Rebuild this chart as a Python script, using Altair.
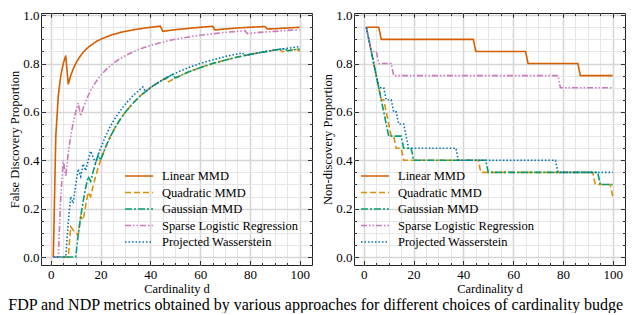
import altair as alt
import pandas as pd

methods = ["Linear MMD", "Quadratic MMD", "Gaussian MMD",
           "Sparse Logistic Regression", "Projected Wasserstein"]
colors = ["#D55E00", "#DE8F05", "#029E73", "#CC78BC", "#0173B2"]
dashes = [[1, 0], [6, 3], [7, 2, 2, 2], [6, 2, 1.5, 2, 1.5, 2], [1.5, 2]]

# ---- Left panel: False Discovery Proportion ----
lin_d = [1, 2, 3, 4, 5, 6, 7, 8, 9, 10, 11, 12, 13, 14, 15, 16, 17, 18, 19, 20,
         22, 24, 26, 28, 30, 34, 38, 44, 45, 50, 55, 60, 65, 66, 70, 75, 80, 86,
         87, 90, 95, 100]
lin_fdp = [0, 0.5, 0.667, 0.75, 0.8, 0.833, 0.714, 0.75, 0.778, 0.8, 0.818, 0.833,
           0.846, 0.857, 0.867, 0.875, 0.882, 0.889, 0.895, 0.9,
           0.909, 0.917, 0.923, 0.929, 0.933, 0.941, 0.947, 0.955,
           0.933, 0.94, 0.945, 0.95, 0.954, 0.939, 0.943, 0.947, 0.95, 0.953,
           0.943, 0.944, 0.947, 0.95]

quad_d = [1, 7, 8, 9, 10, 11, 12, 13, 14, 15, 16, 17, 18, 19, 20,
          22, 24, 26, 28, 30, 33, 36, 40, 43, 46,
          47, 50, 55, 60, 65, 70, 75, 80, 85, 92, 93, 96, 99, 100]
quad_fdp = [0, 0, 0.125, 0.111, 0.1, 0.091, 0.167, 0.154, 0.214, 0.267, 0.25, 0.294,
            0.333, 0.368, 0.4,
            0.455, 0.5, 0.538, 0.571, 0.6, 0.636, 0.667, 0.7, 0.721, 0.739,
            0.723, 0.74, 0.764, 0.783, 0.8, 0.814, 0.827, 0.838, 0.847, 0.859,
            0.849, 0.854, 0.859, 0.85]

gau_d = [1, 10, 11, 12, 13, 14, 15, 16, 17, 18, 19, 20,
         22, 24, 26, 28, 30, 33, 36, 40, 44, 49,
         50, 55, 60, 65, 70, 75, 80, 85, 90, 94, 95, 100]
gau_fdp = [0, 0, 0.091, 0.167, 0.231, 0.286, 0.333, 0.313, 0.353, 0.389, 0.421, 0.4,
           0.455, 0.5, 0.538, 0.571, 0.6, 0.636, 0.667, 0.7, 0.727, 0.755,
           0.74, 0.764, 0.783, 0.8, 0.814, 0.827, 0.838, 0.847, 0.856, 0.862,
           0.853, 0.86]

slr_d = [1, 3, 4, 5, 6, 7, 8, 9, 10, 11, 12, 13, 14, 15, 16, 17, 18, 19, 20,
         22, 24, 26, 28, 30, 33, 36, 40, 44, 48, 52, 56, 60, 65, 70, 74, 78,
         79, 84, 90, 95, 100]
slr_fdp = [0, 0, 0.25, 0.4, 0.333, 0.429, 0.5, 0.556, 0.6, 0.636, 0.583, 0.615,
           0.643, 0.667, 0.688, 0.706, 0.722, 0.737, 0.75,
           0.773, 0.792, 0.808, 0.821, 0.833, 0.848, 0.861, 0.875, 0.886, 0.896,
           0.904, 0.911, 0.917, 0.923, 0.929, 0.932, 0.936,
           0.924, 0.929, 0.933, 0.937, 0.94]

pw_d = [1, 6, 7, 8, 9, 10, 11, 12, 13, 14, 15, 16, 17, 18, 19, 20,
        22, 24, 26, 28, 30, 33, 37,
        38, 41, 44, 48, 52, 56, 60, 65, 70, 77,
        78, 82, 86, 90, 95, 100]
pw_fdp = [0, 0, 0.143, 0.25, 0.222, 0.3, 0.364, 0.333, 0.385, 0.357, 0.4, 0.438,
          0.412, 0.389, 0.421, 0.45,
          0.5, 0.542, 0.577, 0.607, 0.633, 0.667, 0.703,
          0.684, 0.707, 0.727, 0.75, 0.769, 0.786, 0.8, 0.815, 0.829, 0.844,
          0.833, 0.841, 0.849, 0.856, 0.863, 0.87]

# ---- Right panel: Non-discovery Proportion (step vertices) ----
lin_nd_d = [1, 6, 7, 44, 45, 65, 66, 86, 87, 100]
lin_ndp = [0.95, 0.95, 0.9, 0.9, 0.85, 0.85, 0.8, 0.8, 0.75, 0.75]

quad_nd_d = [1, 7, 8, 9, 10, 11, 12, 13, 15, 16, 46, 47, 92, 93, 99, 100]
quad_ndp = [0.95, 0.65, 0.65, 0.6, 0.55, 0.5, 0.5, 0.45, 0.45, 0.4, 0.4, 0.35,
            0.35, 0.3, 0.3, 0.25]

gau_nd_d = [1, 10, 15, 16, 19, 20, 49, 50, 94, 95, 100]
gau_ndp = [0.95, 0.5, 0.5, 0.45, 0.45, 0.4, 0.4, 0.35, 0.35, 0.3, 0.3]

slr_nd_d = [1, 3, 5, 6, 11, 12, 78, 79, 100]
slr_ndp = [0.95, 0.85, 0.85, 0.8, 0.8, 0.75, 0.75, 0.7, 0.7]

pw_nd_d = [1, 6, 8, 9, 11, 12, 13, 14, 16, 17, 18, 37, 38, 77, 78, 100]
pw_ndp = [0.95, 0.7, 0.7, 0.65, 0.65, 0.6, 0.6, 0.55, 0.55, 0.5, 0.45, 0.45,
          0.4, 0.4, 0.35, 0.35]

x_major = [0, 20, 40, 60, 80, 100]
x_minor = [5, 10, 15, 25, 30, 35, 45, 50, 55, 65, 70, 75, 85, 90, 95]
y_major = [0.0, 0.2, 0.4, 0.6, 0.8, 1.0]
y_minor = [0.05, 0.1, 0.15, 0.25, 0.3, 0.35, 0.45, 0.5, 0.55, 0.65, 0.7, 0.75,
           0.85, 0.9, 0.95]

caption = ("FDP and NDP metrics obtained by various approaches for different "
           "choices of cardinality budge")

FONT = "Liberation Serif"
W, H = 271, 252
XDOM = [-3.95, 104.95]
YDOM = [-0.033, 1.009]


def long_df(ds, vs):
    rows = []
    for m, d, v in zip(methods, ds, vs):
        for di, vi in zip(d, v):
            rows.append({"method": m, "d": di, "value": vi})
    return pd.DataFrame(rows)


left_df = long_df([lin_d, quad_d, gau_d, slr_d, pw_d],
                  [lin_fdp, quad_fdp, gau_fdp, slr_fdp, pw_fdp])
right_df = long_df([lin_nd_d, quad_nd_d, gau_nd_d, slr_nd_d, pw_nd_d],
                   [lin_ndp, quad_ndp, gau_ndp, slr_ndp, pw_ndp])

x_all = sorted(x_major + x_minor)
y_all = sorted(y_major + y_minor)
xmaj_test = "datum.value % 20 == 0"
ymaj_test = "round(datum.value * 100) % 20 == 0"


def panel(df, ytitle, lx, ly):
    xs = alt.Scale(domain=XDOM, nice=False, zero=False)
    ys = alt.Scale(domain=YDOM, nice=False, zero=False)
    base = alt.Chart(df)
    leg = alt.Legend(orient="none", legendX=lx, legendY=ly, title=None,
                     symbolType="M-2,0H2", symbolSize=196, symbolStrokeWidth=1.6,
                     labelFont=FONT, labelFontSize=12.5, labelColor="black",
                     labelOffset=15, rowPadding=1.5, padding=0)
    main = base.mark_line(strokeWidth=1.6).encode(
        x=alt.X("d:Q", scale=xs, axis=alt.Axis(
            values=x_all, format="d",
            labelExpr="datum.value % 20 == 0 ? datum.label : ''",
            grid=True,
            gridColor={"condition": {"test": xmaj_test, "value": "#d6d6d6"}, "value": "#e6e6e6"},
            gridWidth={"condition": {"test": xmaj_test, "value": 1.6}, "value": 1},
            ticks=False, domain=False, labelPadding=3, titlePadding=1,
            title="Cardinality d")),
        y=alt.Y("value:Q", scale=ys, axis=alt.Axis(
            values=y_all, format=".1f",
            labelExpr="round(datum.value * 100) % 20 == 0 ? datum.label : ''",
            grid=True,
            gridColor={"condition": {"test": ymaj_test, "value": "#d6d6d6"}, "value": "#e6e6e6"},
            gridWidth={"condition": {"test": ymaj_test, "value": 1.6}, "value": 1},
            ticks=False, domain=False, labelPadding=2, titlePadding=1,
            title=ytitle)),
        color=alt.Color("method:N", scale=alt.Scale(domain=methods, range=colors), legend=leg),
        strokeDash=alt.StrokeDash("method:N", scale=alt.Scale(domain=methods, range=dashes), legend=leg),
    )

    def tick_layer(ox, oy, xv, yv, size):
        return base.mark_line(opacity=0).encode(
            x=alt.X("d:Q", scale=xs, axis=alt.Axis(
                orient=ox, values=xv, offset=-size, tickSize=size, labels=False,
                domain=False, grid=False, title=None, tickColor="#333", tickWidth=1)),
            y=alt.Y("value:Q", scale=ys, axis=alt.Axis(
                orient=oy, values=yv, offset=-size, tickSize=size, labels=False,
                domain=False, grid=False, title=None, tickColor="#333", tickWidth=1)),
        )

    layers = [
        main,
        tick_layer("bottom", "left", x_major, y_major, 4.5),
        tick_layer("bottom", "left", x_minor, y_minor, 2.5),
        tick_layer("top", "right", x_major, y_major, 4.5),
        tick_layer("top", "right", x_minor, y_minor, 2.5),
    ]
    return alt.layer(*layers).resolve_axis(x="independent", y="independent").properties(
        width=W, height=H)


left = panel(left_df, "False Discovery Proportion", 90, 155)
right = panel(right_df, "Non-discovery Proportion", 13, 155)

chart = alt.hconcat(left, right, spacing=8).resolve_scale(
    color="independent", strokeDash="independent"
).resolve_legend(
    color="independent", strokeDash="independent"
).properties(
    padding=0,
    title=alt.TitleParams(text=caption, orient="bottom", anchor="start", frame="bounds",
                          font=FONT, fontSize=16, fontWeight="normal", color="black",
                          offset=2),
).configure_view(
    stroke="#222", strokeWidth=1
).configure_axis(
    labelFont=FONT, labelFontSize=13, labelColor="black",
    titleFont=FONT, titleFontSize=12.5, titleFontWeight="normal", titleColor="black",
)

chart.save("out.html", embed_options={"renderer": "svg", "actions": False})
